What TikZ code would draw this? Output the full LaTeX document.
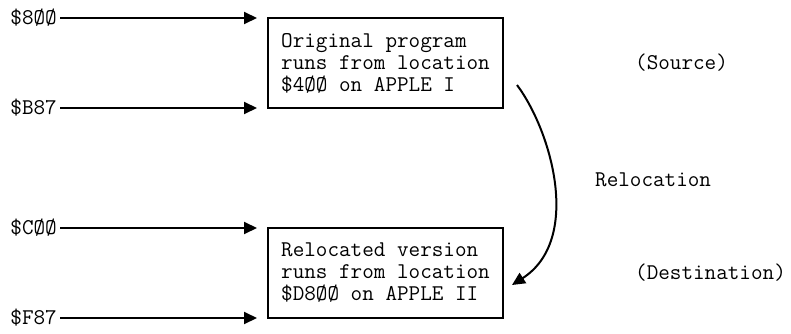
\documentclass[tikz,border=0pt]{standalone}
\usetikzlibrary{arrows.meta}
\tikzset{
  memarrow/.style={line width=2pt,-{Triangle[length=13pt,width=12pt]}},
  progbox/.style={draw,line width=1.4pt,anchor=north west,minimum width=235pt,
    minimum height=90pt,align=left,inner sep=0pt,outer sep=0pt},
  addr/.style={anchor=east,inner sep=3pt},
  note/.style={anchor=west,inner sep=0pt}
}
\begin{document}
\begin{tikzpicture}[x=1pt,y=-1pt,font=\ttfamily\fontsize{22.5}{22}\selectfont]
\useasboundingbox (0,0) rectangle (791,334);
% the two copies of the program
\node[progbox] (src) at (268,18) {Original program\\runs from location\\\$4ØØ on APPLE I};
\node[progbox] (dst) at (268,228) {Relocated version\\runs from location\\\$D8ØØ on APPLE II};
% start and end addresses
\node[addr] (a800) at ([xshift=-208pt]src.north west) {\$8ØØ};
\node[addr] (aB87) at ([xshift=-208pt]src.south west) {\$B87};
\node[addr] (aC00) at ([xshift=-208pt]dst.north west) {\$CØØ};
\node[addr] (aF87) at ([xshift=-208pt]dst.south west) {\$F87};
\foreach \a/\c in {a800/src.north west,aB87/src.south west,aC00/dst.north west,aF87/dst.south west}
\draw[memarrow] (\a.east) -- ([xshift=-11pt]\c);
% relocation
\coordinate (relstart) at (517,85);
\coordinate (relend) at (512,285);
\draw[memarrow] (relstart) .. controls (552,132) and (582,240) .. (relend);
\node[note] (srclbl) at (635,63) {(Source)};
\node[note] (reloc) at (595,180) {Relocation};
\node[note] (dstlbl) at (635,273) {(Destination)};
\end{tikzpicture}
\end{document}
